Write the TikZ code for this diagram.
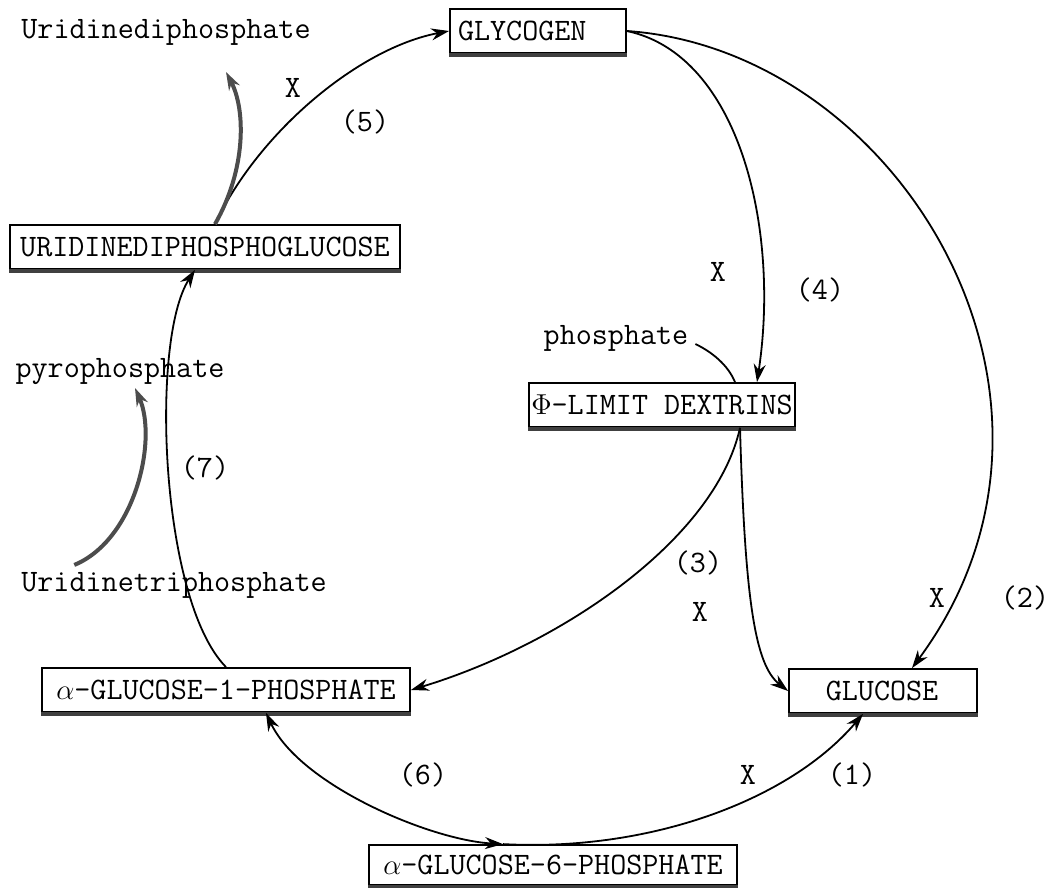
\documentclass[tikz,border=0pt]{standalone}
\usepackage{fontspec}
\usetikzlibrary{arrows.meta, calc, positioning}

\begin{document}
\begin{tikzpicture}[x=0.5pt, y=-0.5pt,
    every node/.style={font=\fontsize{15.6}{18}\selectfont\ttfamily},
    compound/.style={draw, line width=0.9pt, inner sep=1pt, minimum height=22pt},
    rxn/.style={line width=0.9pt, -{Stealth[length=9pt,width=6pt]}},
    cofactor/.style={line width=2pt, gray!60!black, -{Stealth[length=9pt,width=6pt]}}]
    \useasboundingbox (0,0) rectangle (1050,888);

    % Compounds
    \node[compound, minimum width=88pt, text width=80pt, align=left] (glycogen) at (538,31) {GLYCOGEN};
    \node[compound, minimum width=195pt] (udpg) at (205,247) {URIDINEDIPHOSPHOGLUCOSE};
    \node[compound, minimum width=112pt] (dextrins) at (662,405) {$\Phi$-LIMIT DEXTRINS};
    \node[compound, minimum width=184pt] (g1p) at (226,690) {$\alpha$-GLUCOSE-1-PHOSPHATE};
    \node[compound, minimum width=94pt, text width=78pt, align=left] (glucose) at (883,691) {\ \ GLUCOSE};
    \node[compound, minimum width=184pt, minimum height=20pt] (g6p) at (553,865) {$\alpha$-GLUCOSE-6-PHOSPHATE};
    \foreach \n in {glycogen, udpg, dextrins, g1p, glucose, g6p}
        \draw[line width=2.2pt, gray!50!black] ([yshift=-0.6pt]\n.south west) -- ([yshift=-0.6pt]\n.south east);

    % Cofactors
    \node (udp) at (166,32) {Uridinediphosphate};
    \node (phos) at (616,338) {phosphate};
    \node (ppi) at (120,372) {pyrophosphate};
    \node (utp) at (174,585) {Uridinetriphosphate};
    \coordinate (udptip) at (226,72);
    \coordinate (ppitip) at (135,388);

    % Glycogen breakdown
    \draw[rxn] (glycogen.east) .. controls (900,50) and (1110,400) .. ([xshift=14.5pt]glucose.north);
    \draw[rxn] (glycogen.east) .. controls (740,55) and (780,230) .. ([xshift=47.5pt]dextrins.north);
    \draw[line width=0.9pt] ([yshift=-3pt]phos.east) .. controls (712,352) and (728,365) .. ([xshift=36.5pt]dextrins.north);
    \draw[rxn] ([xshift=39pt]dextrins.south) .. controls (745,600) and (755,665) .. (glucose.west);
    \draw[rxn] ([xshift=39pt]dextrins.south) .. controls (715,540) and (560,645) .. (g1p.east);

    % Bottom: mutase and phosphatase
    \draw[rxn, {Stealth[length=9pt,width=6pt]}-{Stealth[length=9pt,width=6pt]}] ([xshift=-25pt]g6p.north) .. controls (430,840) and (300,785) .. ([xshift=20pt]g1p.south);
    \draw[rxn] ([xshift=-25pt]g6p.north) .. controls (650,852) and (790,800) .. ([xshift=-10pt]glucose.south);

    % Synthesis
    \draw[rxn] (g1p.north) .. controls (160,600) and (150,340) .. ([xshift=-5pt]udpg.south);
    \draw[cofactor] ([xshift=30pt]utp.north west) .. controls (135,540) and (158,440) .. (ppitip);
    \draw[rxn] ([xshift=5pt]udpg.north) .. controls (260,130) and (360,48) .. (glycogen.west);
    \draw[cofactor] ([xshift=5pt]udpg.north) .. controls (246,170) and (246,110) .. (udptip);

    % Enzyme labels
    \node (x5) at (293,88) {X};
    \node (n5) at (365,122) {(5)};
    \node (x4) at (718,272) {X};
    \node (n4) at (820,290) {(4)};
    \node (n7) at (205,468) {(7)};
    \node (n3) at (698,563) {(3)};
    \node (x3) at (700,612) {X};
    \node (x2) at (937,598) {X};
    \node (n2) at (1025,598) {(2)};
    \node (n6) at (423,775) {(6)};
    \node (x1) at (748,775) {X};
    \node (n1) at (852,775) {(1)};
\end{tikzpicture}
\end{document}
